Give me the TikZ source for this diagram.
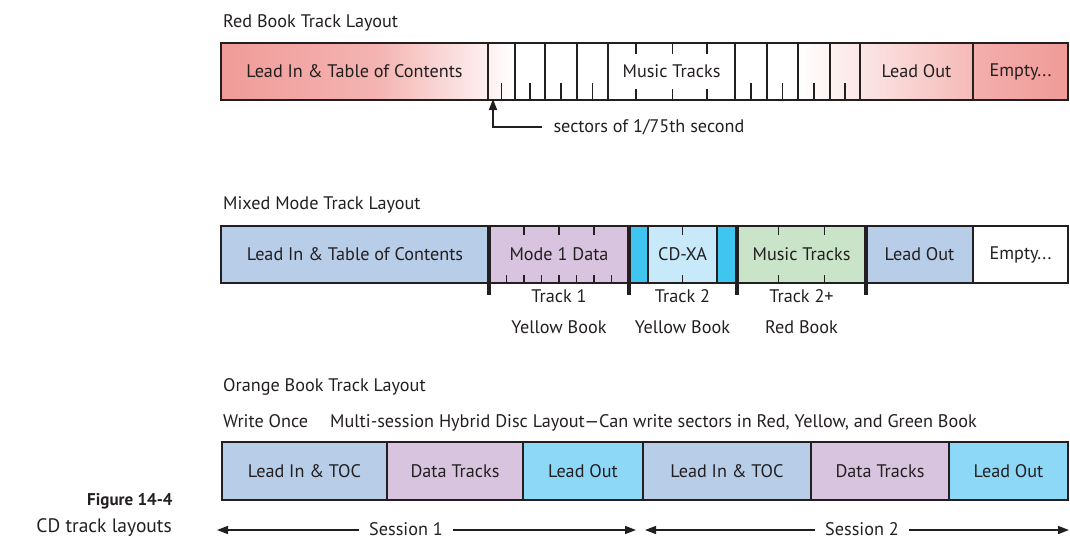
\documentclass[tikz,border=0pt]{standalone}
\usepackage{fontspec}
\setmainfont{PT Sans}
\usetikzlibrary{positioning,arrows.meta,calc,backgrounds}

\definecolor{ink}{HTML}{231F20}
\definecolor{salmon}{HTML}{F09B98}
\definecolor{leadblue}{HTML}{B8CDE8}
\definecolor{datapurple}{HTML}{D9C4E0}
\definecolor{xacyan}{HTML}{3FC5F0}
\definecolor{xalight}{HTML}{C7E9F9}
\definecolor{musicgreen}{HTML}{C9E4C8}
\definecolor{outcyan}{HTML}{8CD8F6}

\begin{document}
\begin{tikzpicture}[
    x=1pt, y=-1pt,
    font=\fontsize{18.2}{21}\selectfont, text=ink,
    seg/.style={draw=ink, line width=1.5pt, minimum height=57pt, inner sep=0pt, outer sep=0pt},
    tick/.style={draw=ink, line width=1.3pt},
    bound/.style={draw=ink, line width=3.5pt},
    ttl/.style={anchor=base west, inner sep=0pt},
    arr/.style={draw=ink, line width=1.5pt, -{Triangle[length=11pt,width=8pt]}}
]
    \useasboundingbox (0,0) rectangle (1070,539);

    % Red Book
    \node[ttl] (redttl) at (223,27) {Red Book Track Layout};
    \node[seg, minimum width=267pt, anchor=north west] (rlead) at (221,43) {Lead In \& Table of Contents};
    \node[seg, minimum width=27pt, right=0pt of rlead] (rs1) {};
    \node[seg, minimum width=30pt, right=0pt of rs1] (rs2) {};
    \node[seg, minimum width=32pt, right=0pt of rs2] (rs3) {};
    \node[seg, minimum width=31pt, right=0pt of rs3] (rs4) {};
    \node[seg, minimum width=127pt, right=0pt of rs4] (rmusic) {Music Tracks};
    \node[seg, minimum width=32pt, right=0pt of rmusic] (rs5) {};
    \node[seg, minimum width=31pt, right=0pt of rs5] (rs6) {};
    \node[seg, minimum width=32pt, right=0pt of rs6] (rs7) {};
    \node[seg, minimum width=30pt, right=0pt of rs7] (rs8) {};
    \node[seg, minimum width=113pt, right=0pt of rs8] (rout) {Lead Out};
    \node[seg, minimum width=95pt, right=0pt of rout] (rempty) {Empty...};

    \begin{scope}[on background layer]
        \shade[left color=salmon, right color=salmon!75!white] (rlead.north west) rectangle ([xshift=-110pt]rlead.south east);
        \shade[left color=salmon!75!white, right color=white] ([xshift=-110pt]rlead.north east) rectangle (rs1.south east);
        \shade[left color=white, right color=salmon!70!white] (rs7.north west) rectangle (rout.south east);
        \shade[left color=salmon!80!white, right color=salmon] (rempty.north west) rectangle (rempty.south east);
    \end{scope}

    \foreach \s in {rs1,rs2,rs3,rs4,rs5,rs6,rs7,rs8}
        \draw[tick] (\s.south) -- ++(0,-17);
    \foreach \f in {0.22,0.51,0.78} {
        \draw[tick] ($(rmusic.north west)!\f!(rmusic.north east)$) -- ++(0,11);
        \draw[tick] ($(rmusic.south west)!\f!(rmusic.south east)$) -- ++(0,-11);
    }

    \node[anchor=west] (sectxt) at (550,127) {sectors of 1/75th second};
    \draw[arr] ([xshift=-8pt]sectxt.west) -| ([xshift=5pt,yshift=1pt]rs1.south west);

    % Mixed Mode
    \node[ttl] (mixttl) at (223,209) {Mixed Mode Track Layout};
    \node[seg, fill=leadblue, minimum width=268pt, anchor=north west] (mlead) at (221,226) {Lead In \& Table of Contents};
    \node[seg, fill=datapurple, minimum width=140pt, right=0pt of mlead] (mdata) {Mode 1 Data};
    \node[seg, fill=xacyan, minimum width=19pt, right=0pt of mdata] (mxa1) {};
    \node[seg, fill=xalight, minimum width=69pt, right=0pt of mxa1] (mxa) {CD-XA};
    \node[seg, fill=xacyan, minimum width=20pt, right=0pt of mxa] (mxa2) {};
    \node[seg, fill=musicgreen, minimum width=129pt, right=0pt of mxa2] (mmusic) {Music Tracks};
    \node[seg, fill=leadblue, minimum width=107pt, right=0pt of mmusic] (mout) {Lead Out};
    \node[seg, fill=white, minimum width=95pt, right=0pt of mout] (mempty) {Empty...};

    \foreach \s in {mdata,mxa1,mmusic,mout}
        \draw[bound] (\s.north west) -- ++(0,69);
    \foreach \k in {1,...,7}
        \draw[tick] ($(mdata.south west)!\k/8!(mdata.south east)$) -- ++(0,-8);
    \foreach \k in {2,4,6}
        \draw[tick] ($(mdata.north west)!\k/8!(mdata.north east)$) -- ++(0,9);
    \draw[tick] (mxa.north) -- ++(0,9);
    \draw[tick] (mxa.south) -- ++(0,-8);
    \foreach \f in {0.32,0.68} {
        \draw[tick] ($(mmusic.north west)!\f!(mmusic.north east)$) -- ++(0,9);
        \draw[tick] ($(mmusic.south west)!\f!(mmusic.south east)$) -- ++(0,-8);
    }

    \node[below=3pt of mdata] (trk1) {Track 1};
    \node[below=11pt of trk1] (book1) {Yellow Book};
    \node[below=3pt of mxa] (trk2) {Track 2};
    \node[below=11pt of trk2] (book2) {Yellow Book};
    \node[below=3pt of mmusic] (trk3) {Track 2+};
    \node[below=11pt of trk3] (book3) {Red Book};

    % Orange Book
    \node[ttl] (orgttl) at (223,391) {Orange Book Track Layout};
    \node[ttl] (wonce) at (223,427) {Write Once};
    \node[ttl] (hybrid) at (330,427) {Multi-session Hybrid Disc Layout---Can write sectors in Red, Yellow, and Green Book};
    \node[seg, fill=leadblue, minimum width=165pt, minimum height=58pt, anchor=north west] (olead1) at (222,442) {Lead In \& TOC};
    \node[seg, fill=datapurple, minimum width=136pt, minimum height=58pt, right=0pt of olead1] (odata1) {Data Tracks};
    \node[seg, fill=outcyan, minimum width=120pt, minimum height=58pt, right=0pt of odata1] (oout1) {Lead Out};
    \node[seg, fill=leadblue, minimum width=168pt, minimum height=58pt, right=0pt of oout1] (olead2) {Lead In \& TOC};
    \node[seg, fill=datapurple, minimum width=138pt, minimum height=58pt, right=0pt of olead2] (odata2) {Data Tracks};
    \node[seg, fill=outcyan, minimum width=119pt, minimum height=58pt, right=0pt of odata2] (oout2) {Lead Out};

    \node[anchor=base, inner sep=0pt] (ses1) at (406,535) {Session 1};
    \node[anchor=base, inner sep=0pt] (ses2) at (862,535) {Session 2};
    \coordinate (ses1l) at (217,530);
    \coordinate (ses1r) at (636,530);
    \coordinate (ses2l) at (645,530);
    \coordinate (ses2r) at (1069,530);
    \draw[arr] ([xshift=-10pt]ses1.west |- ses1l) -- (ses1l);
    \draw[arr] ([xshift=10pt]ses1.east |- ses1r) -- (ses1r);
    \draw[arr] ([xshift=-10pt]ses2.west |- ses2l) -- (ses2l);
    \draw[arr] ([xshift=10pt]ses2.east |- ses2r) -- (ses2r);

    % caption
    \node[anchor=base west, inner sep=0pt, font=\fontsize{17}{21}\selectfont\bfseries] (figno) at (87,505) {Figure 14-4};
    \node[anchor=base east, inner sep=0pt, font=\fontsize{19.5}{23}\selectfont] (figcap) at (172,532) {CD track layouts};
\end{tikzpicture}
\end{document}
